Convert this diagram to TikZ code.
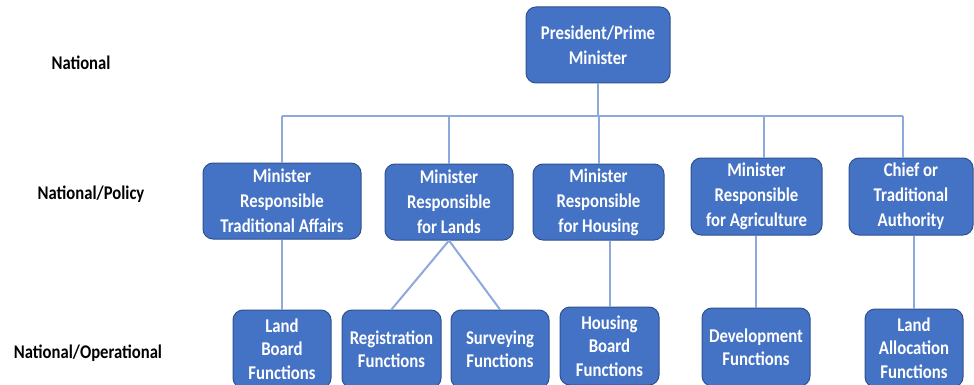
\documentclass[tikz,border=0pt]{standalone}
\usepackage{fontspec}
\setmainfont{Carlito}[FakeStretch=0.86]
\definecolor{boxblue}{HTML}{4472C4}
\definecolor{boxedge}{HTML}{2F528F}
\definecolor{connblue}{HTML}{8EA9DB}
\begin{document}
\begin{tikzpicture}[x=0.75pt,y=-0.75pt,
  box/.style={rectangle, rounded corners=7.5pt, fill=boxblue, draw=boxedge, line width=0.75pt,
    text=white, align=center, inner sep=0pt, minimum height=57pt,
    font=\bfseries\fontsize{14.6pt}{18.75pt}\selectfont},
  lowbox/.style={box, minimum height=58.5pt, font=\bfseries\fontsize{14.6pt}{17.6pt}\selectfont},
  levellabel/.style={text=black, inner sep=0pt, font=\bfseries\fontsize{14.5pt}{16pt}\selectfont},
  conn/.style={draw=connblue, line width=1.5pt}]
\useasboundingbox (0,0) rectangle (974,385);
\clip (0,0) rectangle (974,385);
\fill[white] (0,0) rectangle (974,385);

% level labels
\node[levellabel] (lnat) at (81,63) {National};
\node[levellabel] (lpol) at (91,194) {National/Policy};
\node[levellabel] (lop) at (88,353) {National/Operational};

% connector junctions
\coordinate (b1) at (282,116);
\coordinate (b5) at (903,116);
\coordinate (ba) at (764,116);

% boxes
\node[box, minimum width=108pt] (P) at (598,45) {President/Prime\\Minister};
\node[box, minimum width=118.5pt] (T) at (282,201) {Minister\\Responsible\\Traditional Affairs};
\node[box, minimum width=96pt] (L) at (449,202) {Minister\\Responsible\\for Lands};
\node[box, minimum width=98.25pt] (H) at (598.5,202) {Minister\\Responsible\\for Housing};
\node[box, minimum width=98.25pt, minimum height=57.75pt] (A) at (756.5,196.5) {Minister\\Responsible\\for Agriculture};
\node[box, minimum width=93pt, minimum height=57.75pt] (C) at (911,196.5) {Chief or\\Traditional\\Authority};

\node[lowbox, minimum width=73.5pt] (LB) at (282,349) {Land\\Board\\Functions};
\node[lowbox, minimum width=74.25pt] (R) at (391.5,349) {Registration\\Functions};
\node[lowbox, minimum width=73.5pt] (S) at (500,349) {Surveying\\Functions};
\node[lowbox, minimum width=74.25pt] (HB) at (609.5,346) {Housing\\Board\\Functions};
\node[lowbox, minimum width=81pt] (D) at (756,347) {Development\\Functions};
\node[lowbox, minimum width=73.5pt] (LA) at (914,348) {Land\\Allocation\\Functions};

% connectors
\draw[conn] (P.south) -- (P.south |- b1);
\draw[conn] (b1) -- (b5);
\draw[conn] (b1) -- (b1 |- T.north);
\draw[conn] (L.north |- b1) -- (L.north);
\draw[conn] (H.north |- b1) -- (H.north);
\draw[conn] (ba) -- (ba |- A.north);
\draw[conn] (b5) -- (b5 |- C.north);

\draw[conn] (T.south) -- (LB.north);
\draw[conn] (L.south) -- (R.north);
\draw[conn] (L.south) -- (S.north);
\draw[conn] (HB.north |- H.south) -- (HB.north);
\draw[conn] (D.north |- A.south) -- (D.north);
\draw[conn] (LA.north |- C.south) -- (LA.north);
\end{tikzpicture}
\end{document}
